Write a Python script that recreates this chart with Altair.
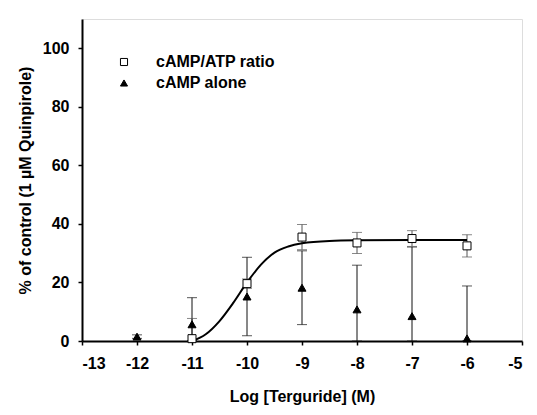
import altair as alt
import pandas as pd

# Data
ratio_x = [-11, -10, -9, -8, -7, -6]
ratio_mean = [0.8, 19.6, 35.5, 33.5, 35.0, 32.5]
ratio_err = [6.9, 1.6, 4.3, 3.6, 2.7, 3.8]

alone_x = [-12, -11, -10, -9, -8, -7, -6]
alone_mean = [1.5, 5.7, 15.2, 18.2, 10.8, 8.5, 0.9]
alone_err = [0.6, 9.1, 13.4, 12.6, 15.1, 23.6, 17.9]

curve_x = [-11, -10.75, -10.5, -10.25, -10, -9.75, -9.5, -9.25, -9, -8.5, -8, -7, -6]
curve_y = [0, 2.3, 6.8, 13.0, 20.0, 26.0, 30.2, 32.3, 33.4, 34.2, 34.4, 34.5, 34.5]

series_names = ["cAMP/ATP ratio", "cAMP alone"]
x_ticks = [-13, -12, -11, -10, -9, -8, -7, -6, -5]
y_ticks = [0, 20, 40, 60, 80, 100]

rows = []
for x, m, e in zip(ratio_x, ratio_mean, ratio_err):
    rows.append({"x": x, "m": m, "e": e, "s": series_names[0]})
for x, m, e in zip(alone_x, alone_mean, alone_err):
    rows.append({"x": x, "m": m, "e": e, "s": series_names[1]})
pts = pd.DataFrame(rows)
curve = pd.DataFrame({"x": curve_x, "y": curve_y})

FONT = "Liberation Sans"
FS = 16

xscale = alt.Scale(domain=[-13, -5], nice=False)
yscale = alt.Scale(domain=[0, 110], nice=False)

xaxis = alt.Axis(values=x_ticks, title="Log [Terguride] (M)", grid=False,
                 labelExpr="'' + datum.value",
                 domain=True, domainColor="black", domainWidth=2,
                 tickColor="black", tickWidth=1.5, tickSize=4,
                 labelFont=FONT, labelFontWeight="bold", labelFontSize=FS, labelColor="black",
                 labelPadding=10, titleFont=FONT, titleFontWeight="bold", titleFontSize=FS,
                 titleColor="black", titlePadding=17)
yaxis = alt.Axis(values=y_ticks, title="% of control (1 µM Quinpirole)", grid=False,
                 labelExpr="'' + datum.value",
                 domain=True, domainColor="black", domainWidth=2,
                 tickColor="black", tickWidth=1.5, tickSize=4,
                 labelFont=FONT, labelFontWeight="bold", labelFontSize=FS, labelColor="black",
                 labelPadding=9, titleFont=FONT, titleFontWeight="bold", titleFontSize=FS,
                 titleColor="black", titlePadding=9)

base = alt.Chart(pts).transform_calculate(
    lo="max(0, datum.m - datum.e)", hi="datum.m + datum.e"
)
bar_color = alt.Color("s:N", scale=alt.Scale(domain=series_names, range=["#555555", "#111111"]), legend=None)

bars = base.mark_rule(strokeWidth=1).encode(
    x=alt.X("x:Q", scale=xscale, axis=xaxis),
    y=alt.Y("lo:Q", scale=yscale, axis=yaxis),
    y2="hi:Q",
    color=bar_color,
)
cap_hi = base.mark_tick(orient="horizontal", size=10, thickness=1).encode(
    x=alt.X("x:Q", scale=xscale),
    y=alt.Y("hi:Q", scale=yscale),
    color=bar_color,
)
cap_lo = base.mark_tick(orient="horizontal", size=10, thickness=1).encode(
    x=alt.X("x:Q", scale=xscale),
    y=alt.Y("lo:Q", scale=yscale),
    color=bar_color,
)

line = alt.Chart(curve).mark_line(color="black", strokeWidth=2, interpolate="monotone").encode(
    x=alt.X("x:Q", scale=xscale),
    y=alt.Y("y:Q", scale=yscale),
)

legend = alt.Legend(title=None, orient="none", legendX=34, legendY=35,
                    labelFont=FONT, labelFontWeight="bold", labelFontSize=FS, labelColor="black",
                    symbolSize=50, rowPadding=5, labelOffset=24, symbolStrokeWidth=1)

points = alt.Chart(pts).mark_point(size=64, strokeWidth=1, opacity=1, filled=False).encode(
    x=alt.X("x:Q", scale=xscale),
    y=alt.Y("m:Q", scale=yscale),
    shape=alt.Shape("s:N", scale=alt.Scale(domain=series_names, range=["square", "triangle-up"]), legend=legend),
    fill=alt.Fill("s:N", scale=alt.Scale(domain=series_names, range=["white", "black"]), legend=legend),
    stroke=alt.Stroke("s:N", scale=alt.Scale(domain=series_names, range=["black", "black"]), legend=legend),
)

chart = alt.layer(bars, cap_hi, cap_lo, line, points).resolve_scale(color="independent").properties(
    width=440, height=322,
    autosize=alt.AutoSizeParams(type="none"),
    padding={"left": 74, "top": 11, "right": 7, "bottom": 66},
).configure_view(stroke=None).configure(background="white")

chart.save("out.html", embed_options={"renderer": "svg", "actions": False})
